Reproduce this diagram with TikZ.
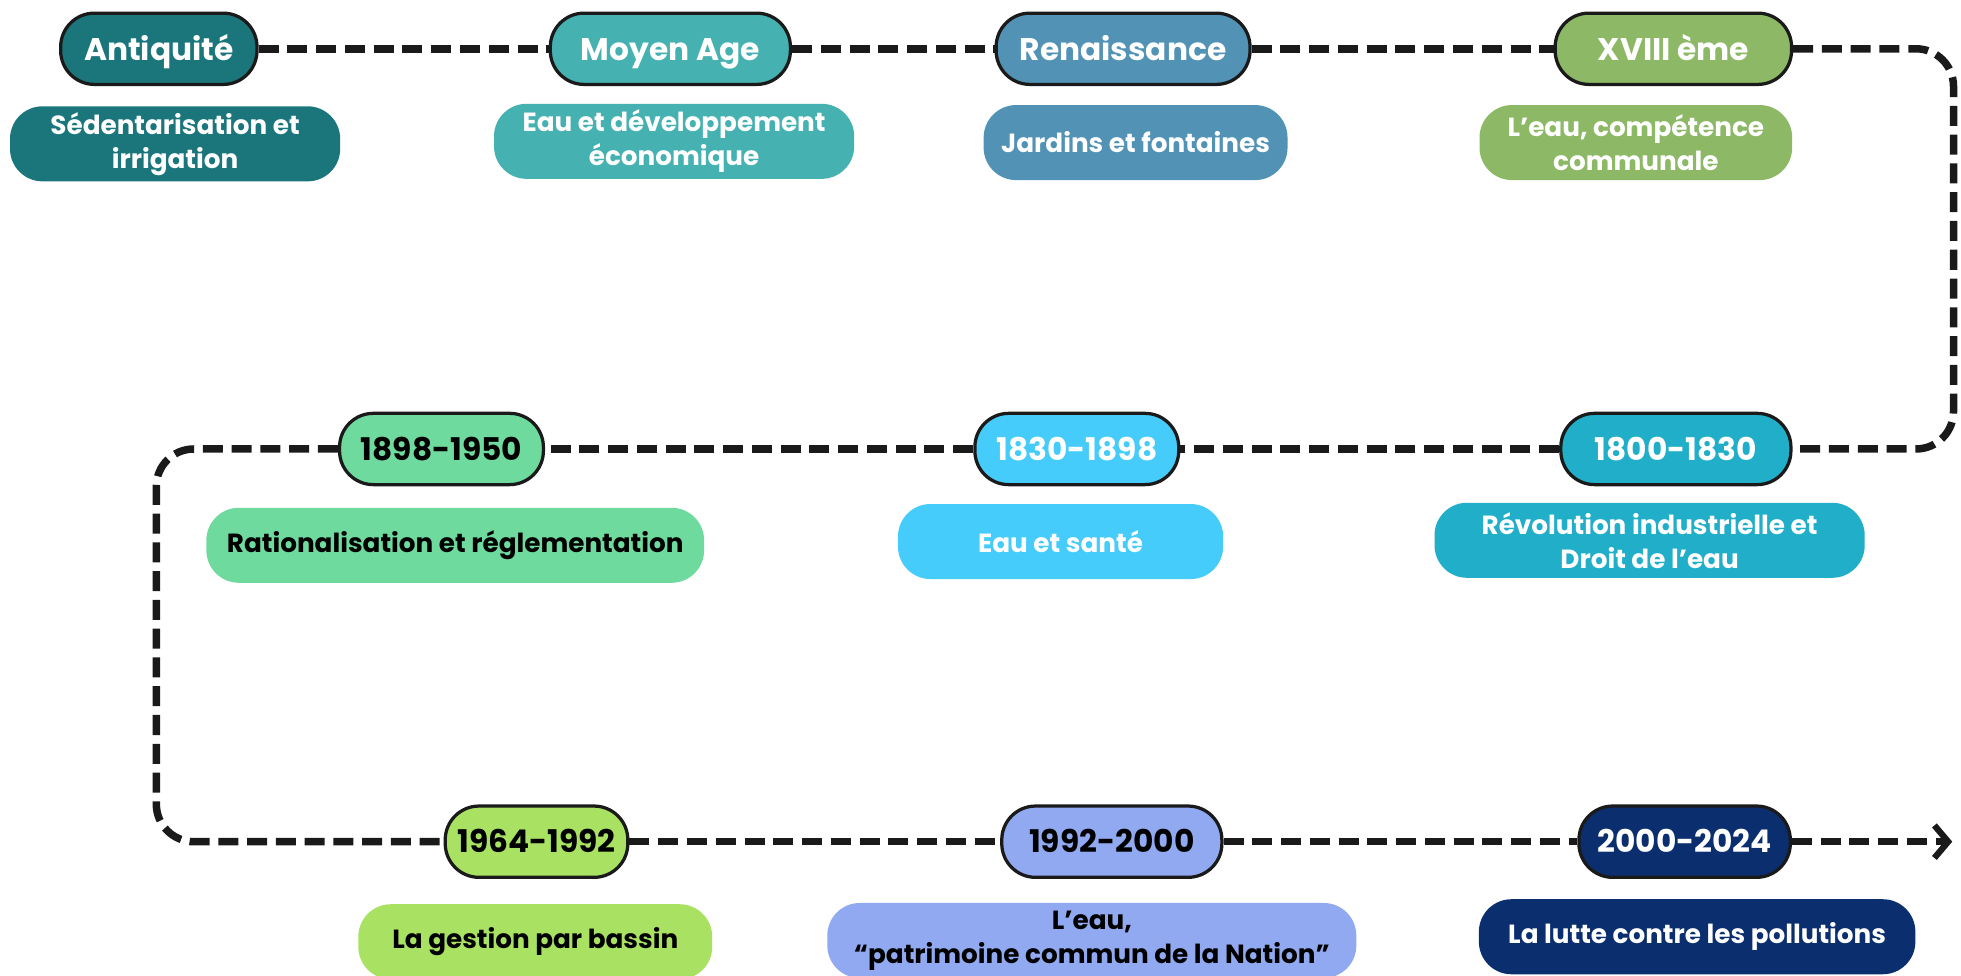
\documentclass[tikz,border=0pt]{standalone}
\usepackage{fontspec}
\setmainfont{Poppins}
\usetikzlibrary{arrows.meta}
\definecolor{cAnt}{HTML}{1B767C}
\definecolor{cMoy}{HTML}{45B1B0}
\definecolor{cRen}{HTML}{5292B5}
\definecolor{cXVIII}{HTML}{8DB866}
\definecolor{cA}{HTML}{6FDA9E}
\definecolor{cB}{HTML}{45CCFA}
\definecolor{cC}{HTML}{21AEC9}
\definecolor{cD}{HTML}{A9E262}
\definecolor{cE}{HTML}{90A9F0}
\definecolor{cF}{HTML}{0B2E6F}
\definecolor{lineblk}{HTML}{1A1A1A}
\tikzset{
  hdr/.style={draw=lineblk, line width=2.6pt, rounded corners=27pt, minimum height=57pt,
    inner sep=0pt, font=\fontsize{25}{30}\selectfont\bfseries, text=white,
    text height=18pt, text depth=0pt},
  desc/.style={rounded corners=26pt, minimum height=60pt, inner sep=0pt, align=center,
    font=\fontsize{21}{27}\selectfont\bfseries, text=white},
  link/.style={line width=6pt, dash pattern=on 16pt off 7pt, draw=lineblk, rounded corners=30pt},
}
\begin{document}
\begin{tikzpicture}[x=1pt,y=-1pt]
\useasboundingbox (0,0) rectangle (1568,780);
% row 1
\node[hdr, fill=cAnt, minimum width=157pt] (ant) at (127,39) {Antiquité};
\node[hdr, fill=cMoy, minimum width=192pt] (moy) at (536,39) {Moyen Age};
\node[hdr, fill=cRen, minimum width=203pt] (ren) at (898,39) {Renaissance};
\node[hdr, fill=cXVIII, minimum width=189pt] (xviii) at (1338,39) {XVIII ème};
\node[desc, fill=cAnt, minimum width=264pt] (dant) at (140,115) {Sédentarisation et\\irrigation};
\node[desc, fill=cMoy, minimum width=288pt] (dmoy) at (539,113) {Eau et développement\\économique};
\node[desc, fill=cRen, minimum width=243pt] (dren) at (908,114) {Jardins et fontaines};
\node[desc, fill=cXVIII, minimum width=250pt] (dxviii) at (1308,114) {L’eau, compétence\\communale};
% row 2
\node[hdr, fill=cA, text=black, minimum width=163pt] (n1898) at (353,359) {1898-1950};
\node[hdr, fill=cB, minimum width=163pt] (n1830) at (861,359) {1830-1898};
\node[hdr, fill=cC, minimum width=184pt] (n1800) at (1340,359) {1800-1830};
\node[desc, fill=cA, text=black, minimum width=398pt] (d1898) at (364,436) {Rationalisation et réglementation};
\node[desc, fill=cB, minimum width=260pt] (d1830) at (848,433) {Eau et santé};
\node[desc, fill=cC, minimum width=344pt] (d1800) at (1319,432) {Révolution industrielle et\\Droit de l’eau};
% row 3
\node[hdr, fill=cD, text=black, minimum width=146pt] (n1964) at (429,673) {1964-1992};
\node[hdr, fill=cE, text=black, minimum width=176pt] (n1992) at (889,673) {1992-2000};
\node[hdr, fill=cF, minimum width=169pt] (n2000) at (1347,673) {2000-2024};
\node[desc, fill=cD, text=black, minimum width=283pt] (d1964) at (428,753) {La gestion par bassin};
\node[desc, fill=cE, text=black, minimum width=423pt] (d1992) at (873,752) {L’eau,\\“patrimoine commun de la Nation”};
\node[desc, fill=cF, minimum width=349pt] (d2000) at (1357,749) {La lutte contre les pollutions};
% connectors
\coordinate (r1) at (1562,39);
\coordinate (r2) at (1562,359);
\coordinate (l1) at (125,359);
\coordinate (l2) at (125,673);
\coordinate (arrowend) at (1561,673);
\draw[link] (ant.east) -- (moy.west);
\draw[link] (moy.east) -- (ren.west);
\draw[link] (ren.east) -- (xviii.west);
\draw[link] (xviii.east) -- (r1) -- (r2) -- (n1800.east);
\draw[link] (n1800.west) -- (n1830.east);
\draw[link] (n1830.west) -- (n1898.east);
\draw[link] (n1898.west) -- (l1) -- (l2) -- (n1964.west);
\draw[link] (n1964.east) -- (n1992.west);
\draw[link] (n1992.east) -- (n2000.west);
\draw[link, -{Straight Barb[length=11pt,width=26pt,line width=5pt]}] (n2000.east) -- (arrowend);
\end{tikzpicture}
\end{document}
